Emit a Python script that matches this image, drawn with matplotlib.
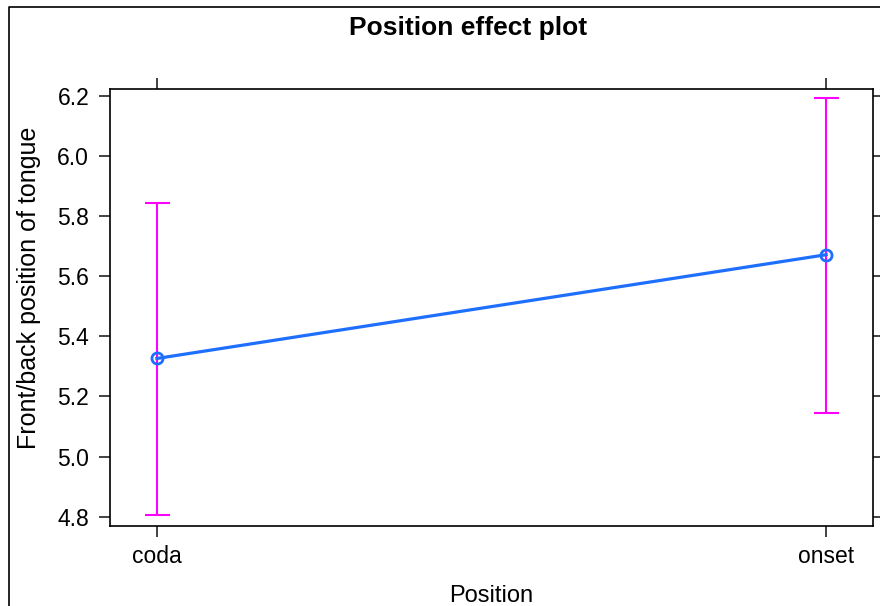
import matplotlib
matplotlib.use("Agg")
import matplotlib.pyplot as plt
from matplotlib.lines import Line2D

plt.rcParams['font.family'] = ['Liberation Sans', 'DejaVu Sans']

# effect estimates with lower/upper confidence limits
positions = ["coda", "onset"]
fit = [5.326, 5.671]
lower = [4.806, 5.146]
upper = [5.842, 6.191]

fig = plt.figure(figsize=(8.8, 6.06), dpi=100)
ax = fig.add_axes([110 / 880, 1 - 526 / 606, (873 - 110) / 880, (526 - 89) / 606])

x = list(range(len(positions)))
yerr = [[f - lo for f, lo in zip(fit, lower)], [hi - f for f, hi in zip(fit, upper)]]
ax.errorbar(x, fit, yerr=yerr, fmt="none", ecolor="#ff00ff", elinewidth=1.5,
            capsize=9, capthick=1.5, zorder=2)
ax.plot(x, fit, color="#1f6fff", lw=2.3, marker="o", ms=8, mfc="none",
        mec="#1f6fff", mew=2, zorder=3)

ax.set_xlim(-0.07, 1.07)
ax.set_ylim(4.769, 6.222)
ax.set_xticks(x)
ax.set_xticklabels(positions)
ax.set_yticks([4.8, 5.0, 5.2, 5.4, 5.6, 5.8, 6.0, 6.2])
ax.set_yticklabels(["4.8", "5.0", "5.2", "5.4", "5.6", "5.8", "6.0", "6.2"])
ax.tick_params(axis="both", direction="out", length=8, width=1.2, labelsize=16.5,
               top=True, right=True, labeltop=False, labelright=False, color="#222222")
ax.tick_params(axis="x", pad=6)
ax.tick_params(axis="y", pad=7)
for s in ax.spines.values():
    s.set_linewidth(1.2)

ax.set_xlabel("Position", fontsize=17, labelpad=12)
ax.set_ylabel("Front/back position of tongue", fontsize=18)
ax.yaxis.set_label_coords(-69 / 763, 0.545)
fig.text(468 / 880, 1 - 28 / 606, "Position effect plot", fontsize=19,
         fontweight="bold", ha="center", va="center")

# outer frame of the screenshot
fig.add_artist(Line2D([9 / 880, 9 / 880, 1.0], [0.0, 1 - 7 / 606, 1 - 7 / 606],
                      transform=fig.transFigure, color="black", lw=1.2))

fig.savefig("out.png", dpi=100)
